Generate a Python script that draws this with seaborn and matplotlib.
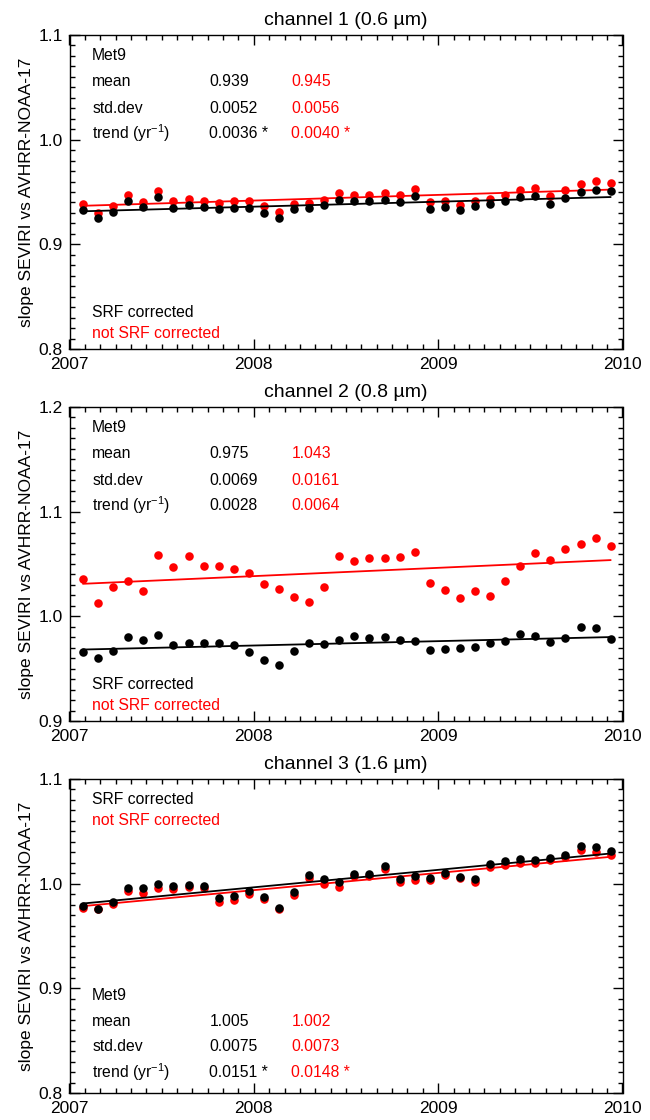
import numpy as np
import pandas as pd
import matplotlib
matplotlib.use("Agg")
import matplotlib.pyplot as plt
import seaborn as sns
from matplotlib.ticker import MultipleLocator, FormatStrFormatter

# ---------------- data ----------------
months = np.arange(36)
decimal_year = 2007.073 + months * 0.0818

ch1_srf = [0.9327, 0.9254, 0.9305, 0.9417, 0.9359, 0.9449, 0.9350, 0.9375, 0.9353, 0.9334,
           0.9350, 0.9350, 0.9302, 0.9247, 0.9334, 0.9350, 0.9375, 0.9426, 0.9410,
           0.9413, 0.9423, 0.9401, 0.9458, 0.9340, 0.9353, 0.9324, 0.9366, 0.9385, 0.9417,
           0.9455, 0.9461, 0.9385, 0.9442, 0.9500, 0.9522, 0.9506]
ch1_nosrf = [0.9385, 0.9302, 0.9362, 0.9468, 0.9407, 0.9512, 0.9410, 0.9436, 0.9413, 0.9394,
             0.9413, 0.9417, 0.9362, 0.9311, 0.9385, 0.9394, 0.9423, 0.9493, 0.9471,
             0.9474, 0.9490, 0.9471, 0.9532, 0.9400, 0.9413, 0.9375, 0.9417, 0.9433, 0.9474,
             0.9519, 0.9538, 0.9458, 0.9519, 0.9576, 0.9605, 0.9589]

ch2_srf = [0.9662, 0.9602, 0.9672, 0.9799, 0.9774, 0.9818, 0.9729, 0.9748, 0.9745, 0.9742,
           0.9729, 0.9662, 0.9583, 0.9535, 0.9672, 0.9745, 0.9732, 0.9777, 0.9809,
           0.9796, 0.9799, 0.9774, 0.9768, 0.9675, 0.9691, 0.9697, 0.9704, 0.9745, 0.9768,
           0.9831, 0.9815, 0.9758, 0.9796, 0.9898, 0.9885, 0.9787]
ch2_nosrf = [1.0353, 1.0127, 1.0283, 1.0334, 1.0245, 1.0583, 1.0468, 1.0576, 1.0478, 1.0481,
             1.0455, 1.0411, 1.0306, 1.0261, 1.0182, 1.0137, 1.0283, 1.0576, 1.0529,
             1.0554, 1.0557, 1.0570, 1.0618, 1.0322, 1.0255, 1.0172, 1.0245, 1.0191, 1.0338,
             1.0478, 1.0608, 1.0535, 1.0646, 1.0691, 1.0752, 1.0669]

ch3_srf = [0.9787, 0.9761, 0.9828, 0.9959, 0.9962, 0.9994, 0.9975, 0.9990, 0.9981, 0.9860,
           0.9885, 0.9933, 0.9873, 0.9771, 0.9920, 1.0083, 1.0041, 1.0016, 1.0096,
           1.0089, 1.0172, 1.0048, 1.0076, 1.0054, 1.0102, 1.0064, 1.0045, 1.0185, 1.0220,
           1.0236, 1.0229, 1.0248, 1.0277, 1.0357, 1.0350, 1.0312]
ch3_nosrf = [0.9768, 0.9755, 0.9803, 0.9927, 0.9914, 0.9959, 0.9952, 0.9968, 0.9962, 0.9828,
             0.9847, 0.9898, 0.9857, 0.9758, 0.9895, 1.0054, 1.0000, 0.9968, 1.0073,
             1.0073, 1.0143, 1.0016, 1.0035, 1.0035, 1.0086, 1.0051, 1.0019, 1.0156, 1.0178,
             1.0201, 1.0197, 1.0223, 1.0255, 1.0322, 1.0306, 1.0277]

titles = ["channel 1 (0.6 µm)", "channel 2 (0.8 µm)", "channel 3 (1.6 µm)"]
ylims = [(0.8, 1.1), (0.9, 1.2), (0.8, 1.1)]
stat_labels = ["mean", "std.dev", "trend (yr$^{-1}$)"]
stats_srf = [["0.939", "0.0052", "0.0036 *"],
             ["0.975", "0.0069", "0.0028"],
             ["1.005", "0.0075", "0.0151 *"]]
stats_nosrf = [["0.945", "0.0056", "0.0040 *"],
               ["1.043", "0.0161", "0.0064"],
               ["1.002", "0.0073", "0.0148 *"]]
year_ticks = [2007, 2008, 2009, 2010]
ylabel = "slope SEVIRI vs AVHRR-NOAA-17"

# ---------------- style ----------------
sns.set_style("ticks")
plt.rcParams["font.family"] = ["Liberation Sans", "DejaVu Sans"]
plt.rcParams["mathtext.fontset"] = "custom"
plt.rcParams["mathtext.rm"] = "Liberation Sans"
plt.rcParams["mathtext.it"] = "Liberation Sans:italic"
plt.rcParams["mathtext.default"] = "regular"
plt.rcParams["text.color"] = "black"
plt.rcParams["axes.labelcolor"] = "black"
plt.rcParams["axes.titlecolor"] = "black"
plt.rcParams["xtick.color"] = "black"
plt.rcParams["ytick.color"] = "black"

W, H = 650, 1120
fig = plt.figure(figsize=(W / 100, H / 100), dpi=100)

left_px, width_px, height_px = 69.5, 553.0, 314.0
tops_px = [35, 407, 779]

series = [(ch1_srf, ch1_nosrf), (ch2_srf, ch2_nosrf), (ch3_srf, ch3_nosrf)]

for k in range(3):
    ax = fig.add_axes([left_px / W, 1 - (tops_px[k] + height_px) / H,
                       width_px / W, height_px / H])
    srf, nosrf = series[k]
    df = pd.DataFrame({"year": decimal_year, "srf": srf, "nosrf": nosrf})

    sns.regplot(data=df, x="year", y="nosrf", ax=ax, ci=None, truncate=True,
                color="#ff0000",
                scatter_kws=dict(s=38, alpha=1, linewidths=0, zorder=3),
                line_kws=dict(lw=1.3, zorder=4))
    sns.regplot(data=df, x="year", y="srf", ax=ax, ci=None, truncate=True,
                color="black",
                scatter_kws=dict(s=38, alpha=1, linewidths=0, zorder=5),
                line_kws=dict(lw=1.3, zorder=6))

    ax.set_xlim(2007, 2010)
    ax.set_ylim(*ylims[k])
    ax.set_xticks(year_ticks)
    ax.xaxis.set_major_formatter(FormatStrFormatter("%d"))
    ax.xaxis.set_minor_locator(MultipleLocator(1 / 12))
    ax.yaxis.set_major_locator(MultipleLocator(0.1))
    ax.yaxis.set_major_formatter(FormatStrFormatter("%.1f"))
    ax.yaxis.set_minor_locator(MultipleLocator(0.01))
    ax.tick_params(which="both", direction="in", top=True, right=True,
                   width=1, colors="black", labelsize=12.5)
    ax.tick_params(which="major", length=7)
    ax.tick_params(which="minor", length=3.5)
    ax.tick_params(axis="y", pad=5)
    ax.tick_params(axis="x", pad=6)
    for sp in ax.spines.values():
        sp.set_linewidth(1.0)
        sp.set_color("black")
        sp.set_visible(True)

    ax.set_xlabel("")
    ax.set_ylabel(ylabel, fontsize=12.5, color="black")
    ax.yaxis.set_label_coords(-0.064, 0.5)
    ax.set_title(titles[k], fontsize=14, pad=7, color="black")

    fs = 11.3
    if k < 2:
        ys = [0.936, 0.851, 0.767, 0.687]
        ys_leg = [0.115, 0.049]
    else:
        ys = [0.312, 0.229, 0.147, 0.066]
        ys_leg = [0.936, 0.869]
    tx = 0.041
    ax.text(tx, ys[0], "Met9", transform=ax.transAxes, fontsize=fs,
            va="center", ha="left", color="black")
    for j in range(3):
        ax.text(tx, ys[j + 1], stat_labels[j], transform=ax.transAxes, fontsize=fs,
                va="center", ha="left", color="black")
        ax.text(0.253, ys[j + 1], stats_srf[k][j], transform=ax.transAxes, fontsize=fs,
                va="center", ha="left", color="black")
        ax.text(0.401, ys[j + 1], stats_nosrf[k][j], transform=ax.transAxes, fontsize=fs,
                va="center", ha="left", color="#ff0000")
    ax.text(tx, ys_leg[0], "SRF corrected", transform=ax.transAxes, fontsize=fs,
            va="center", ha="left", color="black")
    ax.text(tx, ys_leg[1], "not SRF corrected", transform=ax.transAxes, fontsize=fs,
            va="center", ha="left", color="#ff0000")

fig.savefig("out.png", dpi=100, facecolor="white")
